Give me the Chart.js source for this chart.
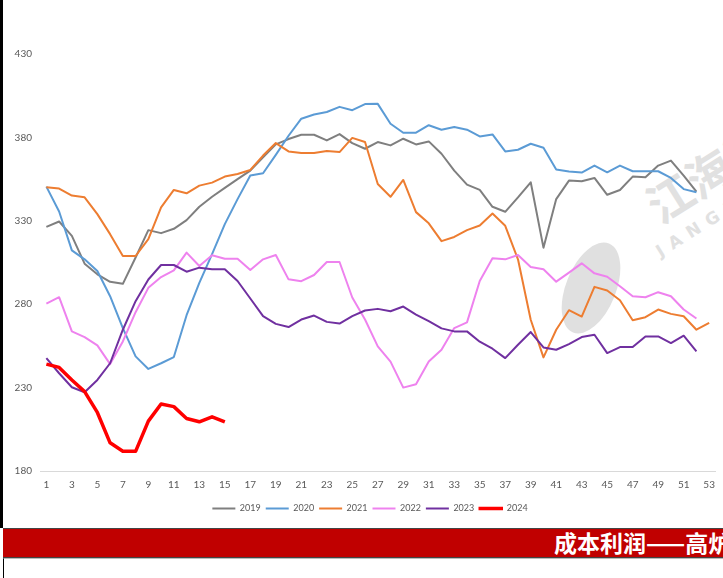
<!DOCTYPE html>
<html>
<head>
<meta charset="utf-8">
<script src="https://cdn.jsdelivr.net/npm/chart.js@4.4.1/dist/chart.umd.min.js"></script>
<style>
  html,body{margin:0;padding:0;background:#fff;width:723px;height:578px;overflow:hidden;position:relative;font-family:"Lato","Noto Sans",sans-serif;}
  #wrap{position:absolute;left:0;top:0;width:723px;height:527px;z-index:2;}
  #leftBorder{position:absolute;left:0;top:0;width:3px;height:528px;background:#000;z-index:3;}
  #banner{position:absolute;left:3px;top:528px;width:720px;height:30px;background:#C00000;border-top:1px solid #444;border-bottom:1px solid #444;box-sizing:border-box;overflow:hidden;z-index:3;}
  #banner span{position:absolute;left:551px;top:-1px;color:#fff;font:bold 23px "Noto Sans CJK SC",sans-serif;white-space:nowrap;line-height:28px;}
  #lower{position:absolute;left:3px;top:558px;width:720px;height:20px;border-left:1px solid #000;border-top:1px solid #bbb;box-sizing:border-box;}
  .wm{position:absolute;z-index:1;color:#e1e1e1;white-space:nowrap;}
</style>
</head>
<body>
<div class="wm" style="left:632px;top:180px;transform:rotate(-32deg);transform-origin:left top;font:bold 46px 'Noto Sans CJK SC',sans-serif;">江海汇鑫</div>
<div class="wm" style="left:652px;top:244px;transform:rotate(-32deg);transform-origin:left top;font:bold 17px 'DejaVu Sans',sans-serif;letter-spacing:8px;">JANGHAI</div>
<div class="wm" style="left:566px;top:240px;width:50px;height:96px;border-radius:50%;background:#e0e0e0;transform:rotate(22deg);"></div>
<div id="leftBorder"></div>
<div id="wrap"><canvas id="c" width="723" height="527"></canvas></div>
<div id="banner"><span>成本利润——高炉</span></div>
<div id="lower"></div>
<script>
const weeks = Array.from({length:53},(_,i)=>String(i+1));
const yearNames = ['2019','2020','2021','2022','2023','2024'];
const d2019 = [326.4,329.6,321,304.3,297.9,293.4,292.2,308,324.4,322.6,325.2,330.4,338.4,344.4,349.7,355,360.1,368.1,375.8,379,381.6,381.6,378.2,382,376.6,373.2,377.2,375.2,379.2,375.8,377.6,370.2,360.1,351.7,348.5,338.4,335.4,344,353.1,313.9,343,354.1,353.7,355.7,345.6,348.5,356.5,356.1,363.1,366.1,357.1,347.5];
const d2020 = [350.5,335.6,312.3,306.9,299.9,284.8,265.7,248.7,241.2,244.6,248.3,273.4,292.8,310,328,343,357.1,358.5,369.5,381,391.2,393.7,395.2,398.3,396.3,400,400.1,388.2,382.8,382.8,387.3,384.6,386.2,384.6,380.6,381.8,371.6,372.6,376.2,373.8,360.7,359.5,358.9,363.1,359.1,363.1,359.7,359.7,359.7,355.7,349,347.1];
const d2021 = [350.1,349.3,345.1,344.1,334,322,308.9,308.9,319,338,348.5,346.5,351.1,352.9,356.5,358.1,360.5,369.1,376.6,371.6,370.6,370.6,371.8,371.2,379.7,377.2,352.1,344.4,354.5,335.2,328.5,317.8,320.3,324.4,327.2,334.4,327,306.9,270.7,248.1,264.7,276.4,272.6,290.4,288.2,282.4,270.4,272.2,276.8,274.2,272.8,264.7,268.8];
const d2022 = [280.4,284.2,263.7,260.3,255.3,244.1,257.7,275.2,289.8,296.3,300.3,310.9,302.9,309.3,307.3,307.3,300.5,306.9,309.5,294.9,293.8,297.5,305.3,305.3,284,270.8,254.7,245.6,230,232,245.6,252.7,265.7,269.1,293.9,307.5,306.9,309.5,302.3,300.9,293.5,298.9,304.5,298.5,296.5,290.8,284.8,284.2,287.2,284.8,276.8,271.4];
const d2023 = [247.7,238.6,230.2,227.2,234.6,244.6,264.7,281.8,294.8,303.5,303.5,299.5,301.9,300.9,300.9,293.9,283.4,272.8,268.2,266.3,270.8,273.2,269.4,268.4,272.8,276.2,277.2,275.8,278.6,273.8,269.8,265.5,263.7,263.7,257.5,253.3,247.7,255.7,263.3,254.1,252.7,256.1,260.3,261.7,250.7,254.3,254.3,260.7,260.7,256.7,261.1,251.7];
const d2024 = [244.1,242.1,234.6,227.6,215.1,196.9,191.8,191.8,209.9,220.2,218.6,211.5,209.5,212.5,209.5];
const yTicks = [180,230,280,330,380,430];

const colors = ['#7F7F7F','#5B9BD5','#ED7D31','#EE82EE','#7030A0','#FF0000'];
const widths = [2,2,2,2,2,3.5];
const series = [d2019,d2020,d2021,d2022,d2023,d2024];

const datasets = series.map((d,i)=>({
  label: yearNames[i],
  data: d,
  borderColor: colors[i],
  backgroundColor: colors[i],
  borderWidth: widths[i],
  pointRadius: 0,
  tension: 0,
  fill: false,
  borderJoinStyle: 'round',
  order: i===5 ? 0 : 6-i
}));

const tickFont = {family:'Lato, "Noto Sans", sans-serif', size:10};

const shiftLegend = {
  id: 'shiftLegend',
  afterLayout(chart){
    if (chart.legend) { chart.legend.left += 10; chart.legend.right += 10; }
  }
};

new Chart(document.getElementById('c'), {
  type: 'line',
  data: {labels: weeks, datasets},
  plugins: [shiftLegend],
  options: {
    responsive: false,
    animation: false,
    devicePixelRatio: 1,
    layout: {padding: {top: 54, right: 3, bottom: 4, left: 0}},
    plugins: {
      legend: {
        position: 'bottom',
        labels: {
          boxWidth: 23, boxHeight: 2, padding: 5,
          color: '#595959',
          font: {family:'Lato, "Noto Sans", sans-serif', size:9},
          generateLabels(chart){
            return chart.data.datasets.map((ds,i)=>({
              text: ds.label, fillStyle: ds.borderColor, strokeStyle: ds.borderColor,
              lineWidth: i===5 ? 1.5 : 0, hidden: false, datasetIndex: i, fontColor:'#595959'
            }));
          }
        }
      },
      tooltip: {enabled: false},
      title: {display: false}
    },
    scales: {
      x: {
        offset: true,
        grid: {display: false, drawTicks: false},
        border: {display: true, color: '#D9D9D9', width: 1},
        ticks: {
          autoSkip: false, maxRotation: 0, padding: 8, color: '#595959', font: tickFont,
          callback: (v,i)=> (i%2===0 ? weeks[i] : '')
        }
      },
      y: {
        min: 180, max: 430,
        afterBuildTicks(scale){ scale.ticks = yTicks.map(v=>({value:v})); },
        afterFit(scale){ scale.width = 40; },
        grid: {display: false, drawTicks: false},
        border: {display: false},
        ticks: {padding: 8, color: '#595959', font: tickFont}
      }
    }
  }
});
</script>
</body>
</html>
